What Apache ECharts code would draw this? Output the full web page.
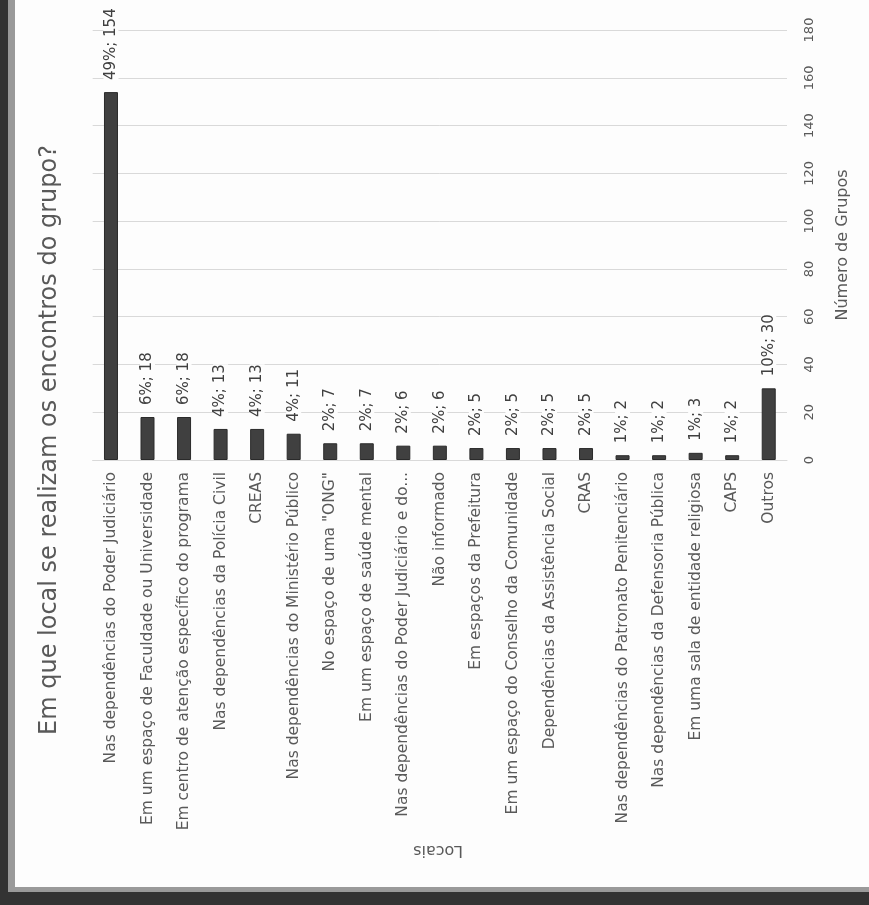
<!DOCTYPE html>
<html>
<head>
<meta charset="utf-8">
<script src="https://cdn.jsdelivr.net/npm/echarts@6/dist/echarts.min.js"></script>
<style>
html,body{margin:0;padding:0;background:#333;}
#c{width:869px;height:905px;}
</style>
</head>
<body>
<div id="c"></div>
<script>
const titleText = 'Em que local se realizam os encontros do grupo?';
const categoryAxisName = 'Locais';
const valueAxisName = 'Número de Grupos';
const categories = [
  'Nas dependências do Poder Judiciário',
  'Em um espaço de Faculdade ou Universidade',
  'Em centro de atenção específico do programa',
  'Nas dependências da Polícia Civil',
  'CREAS',
  'Nas dependências do Ministério Público',
  'No espaço de uma "ONG"',
  'Em um espaço de saúde mental',
  'Nas dependências do Poder Judiciário e do...',
  'Não informado',
  'Em espaços da Prefeitura',
  'Em um espaço do Conselho da Comunidade',
  'Dependências da Assistência Social',
  'CRAS',
  'Nas dependências do Patronato Penitenciário',
  'Nas dependências da Defensoria Pública',
  'Em uma sala de entidade religiosa',
  'CAPS',
  'Outros'
];
const values = [154, 18, 18, 13, 13, 11, 7, 7, 6, 6, 5, 5, 5, 5, 2, 2, 3, 2, 30];
const percents = ['49%', '6%', '6%', '4%', '4%', '4%', '2%', '2%', '2%', '2%', '2%', '2%', '2%', '2%', '1%', '1%', '1%', '1%', '10%'];
const valueTicks = [0, 20, 40, 60, 80, 100, 120, 140, 160, 180];

const chart = echarts.init(document.getElementById('c'), null, {renderer: 'canvas'});
const FONT = 'DejaVu Sans';
chart.setOption({
  backgroundColor: 'transparent',
  animation: false,
  graphic: [
    {type: 'rect', shape: {x: 8, y: 0, width: 869, height: 892}, style: {fill: '#9a9a9a'}, z: -10},
    {type: 'rect', shape: {x: 15, y: 0, width: 869, height: 887}, style: {fill: '#fdfdfd'}, z: -9},
    {type: 'text', x: 50, y: 440, rotation: Math.PI / 2,
      style: {text: titleText, fill: '#595959', font: '24px "DejaVu Sans"', align: 'center', verticalAlign: 'middle'}},
    {type: 'text', x: 438, y: 850, rotation: Math.PI,
      style: {text: categoryAxisName, fill: '#595959', font: '16px "DejaVu Sans"', align: 'center', verticalAlign: 'middle'}}
  ],
  grid: {left: 92.7, right: 82, top: 30, bottom: 445, containLabel: false},
  xAxis: {
    type: 'category',
    data: categories,
    axisLine: {show: true, lineStyle: {color: '#d9d9d9'}},
    axisTick: {show: false},
    axisLabel: {rotate: 90, margin: 12, color: '#595959', fontFamily: FONT, fontSize: 15.5, interval: 0}
  },
  yAxis: {
    type: 'value',
    position: 'right',
    min: 0, max: 180, interval: 20,
    name: valueAxisName,
    nameLocation: 'middle',
    nameRotate: 90,
    nameGap: 48,
    nameTextStyle: {color: '#595959', fontFamily: FONT, fontSize: 16},
    axisLine: {show: false},
    axisTick: {show: false},
    splitLine: {lineStyle: {color: '#d9d9d9', width: 1}},
    axisLabel: {
      rotate: 90, margin: 16, color: '#595959', fontFamily: FONT, fontSize: 13,
      formatter: v => valueTicks.includes(v) ? String(v) : ''
    }
  },
  series: [{
    type: 'bar',
    data: values,
    barWidth: 14,
    itemStyle: {color: '#404040', borderColor: '#2a2a2a', borderWidth: 1},
    label: {
      show: true, position: 'top', rotate: 90, distance: 12,
      align: 'left', verticalAlign: 'middle',
      color: '#404040', fontFamily: FONT, fontSize: 15,
      backgroundColor: '#fdfdfd',
      formatter: p => percents[p.dataIndex] + '; ' + p.value
    }
  }]
});
</script>
</body>
</html>
